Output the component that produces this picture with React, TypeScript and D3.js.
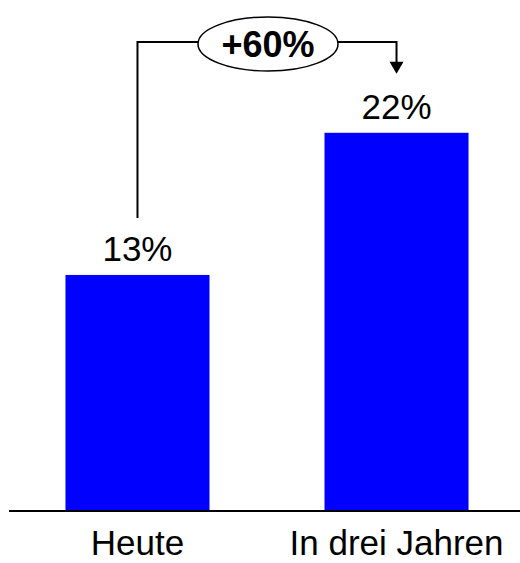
import React from "react";
import * as d3 from "d3";

const categories = ["Heute", "In drei Jahren"];
const values = [13.45, 21.55];
const valueLabels = ["13%", "22%"];
const growthLabel = "+60%";

const W = 520;
const H = 563;
const FONT = "'Liberation Sans', Arial, Helvetica, sans-serif";

const App = () => {
  const baseline = 511;

  const x = d3
    .scaleBand<string>()
    .domain(categories)
    .range([9, 525])
    .paddingInner(0.444)
    .paddingOuter(0.218);

  const y = d3.scaleLinear().domain([0, 25]).range([baseline, baseline - 25 * 17.55]);

  const cx = (c: string) => (x(c) || 0) + x.bandwidth() / 2;

  // annotation bracket
  const lineY = 42;
  const ell = { cx: 268, cy: 44, rx: 70, ry: 27 };
  const x1 = cx(categories[0]);
  const x2 = cx(categories[1]);
  const leftBottom = y(values[0]) - 57;
  const arrowTip = y(values[1]) - 59;

  return (
    <svg
      width={W}
      height={H}
      style={{ position: "absolute", left: 0, top: 0, background: "#fff" }}
    >
      {/* bars */}
      {categories.map((c, i) => (
        <rect
          key={c}
          x={x(c)}
          y={y(values[i])}
          width={x.bandwidth()}
          height={baseline - y(values[i])}
          fill="#0000ff"
        />
      ))}

      {/* value labels */}
      {categories.map((c, i) => (
        <text
          key={c + "-v"}
          x={cx(c)}
          y={y(values[i]) - 14}
          textAnchor="middle"
          fontFamily={FONT}
          fontSize={35}
          fill="#000"
        >
          {valueLabels[i]}
        </text>
      ))}

      {/* axis */}
      <line x1={9} x2={W} y1={baseline} y2={baseline} stroke="#000" strokeWidth={2} />

      {/* category labels */}
      {categories.map((c) => (
        <text
          key={c + "-c"}
          x={cx(c)}
          y={555}
          textAnchor="middle"
          fontFamily={FONT}
          fontSize={35}
          fill="#000"
        >
          {c}
        </text>
      ))}

      {/* growth bracket */}
      <path
        d={`M${x1},${leftBottom} V${lineY} H${ell.cx - ell.rx}`}
        fill="none"
        stroke="#000"
        strokeWidth={2}
      />
      <path
        d={`M${ell.cx + ell.rx},${lineY} H${x2} V${arrowTip - 10}`}
        fill="none"
        stroke="#000"
        strokeWidth={2}
      />
      <path
        d={`M${x2 - 7},${arrowTip - 12} L${x2 + 7},${arrowTip - 12} L${x2},${arrowTip} Z`}
        fill="#000"
      />
      <ellipse
        cx={ell.cx}
        cy={ell.cy}
        rx={ell.rx}
        ry={ell.ry}
        fill="#fff"
        stroke="#000"
        strokeWidth={1.5}
      />
      <text
        x={ell.cx}
        y={ell.cy + 13}
        textAnchor="middle"
        fontFamily={FONT}
        fontSize={36}
        fontWeight="bold"
        fill="#000"
      >
        {growthLabel}
      </text>
    </svg>
  );
};

export default App;
